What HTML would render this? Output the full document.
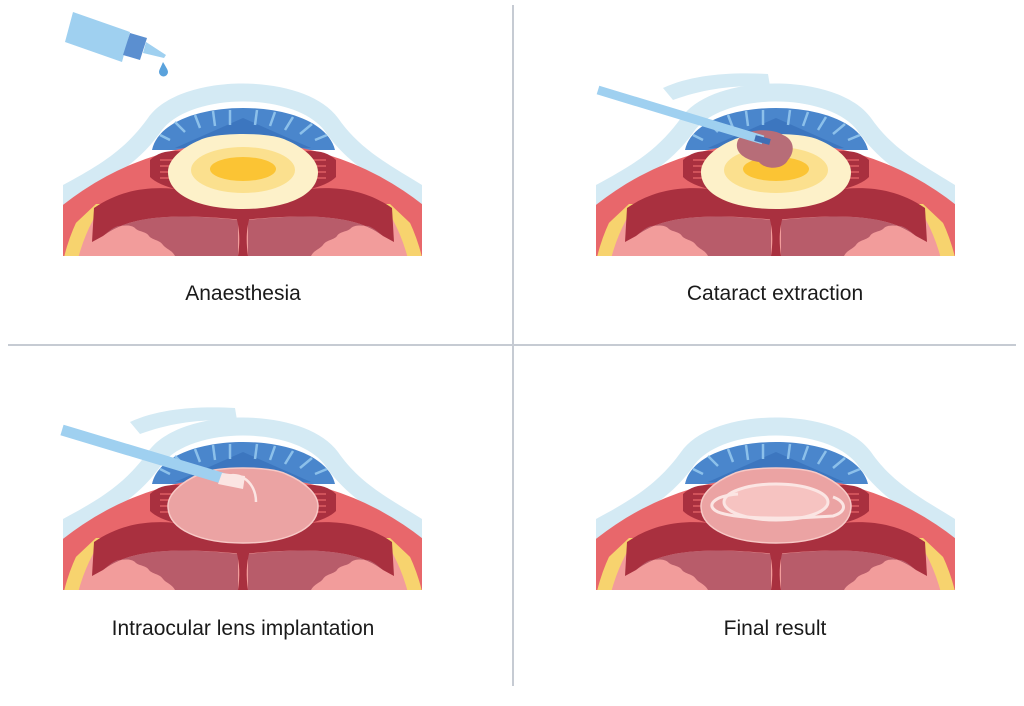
<!DOCTYPE html>
<html><head><meta charset="utf-8"><style>
html,body{margin:0;padding:0;background:#fff;width:1024px;height:706px;overflow:hidden;}
body{position:relative;font-family:"Liberation Sans",sans-serif;}
#w{position:absolute;left:0;top:0;width:1024px;height:706px;overflow:hidden;}
.l{position:absolute;font-size:21px;line-height:24px;color:#1a1a1a;text-align:center;width:400px;}
</style></head><body><div id="w">
<svg width="1024" height="706" viewBox="0 0 1024 706" style="position:absolute;left:0;top:0;display:block">
<defs>
<clipPath id="cb"><rect x="63" y="60" width="359" height="196"/></clipPath>
<clipPath id="cy"><polygon points="60,266 60,238 96,204 390,204 426,238 426,266"/></clipPath>
<g id="base">
 <g clip-path="url(#cb)">
  <path d="M63,256 L63,185 C100,165 125,150 148,118 C180,72 305,72 338,118 C360,150 390,165 422,185 L422,256 Z" fill="#d4eaf4"/>
  <path d="M79,256 L79,196 C112,178 140,162 162,130 C192,92 294,92 324,130 C346,162 374,178 406,196 L406,256 Z" fill="#fff"/>
  <path d="M152,150 C158,122 200,108 243,108 C286,108 328,122 335,150 Z" fill="#4a86cc"/>
  <path d="M175,148 L243,118 L311,148 Z" fill="#336cb5" opacity="0.6"/>
  <g stroke="#8cc0ea" stroke-width="2.5">
   <line x1="170" y1="140" x2="160" y2="135"/><line x1="185" y1="132" x2="175" y2="122"/><line x1="200" y1="128" x2="195" y2="115"/>
   <line x1="215" y1="126" x2="213" y2="111"/><line x1="230" y1="125" x2="230" y2="110"/><line x1="255" y1="125" x2="257" y2="110"/>
   <line x1="270" y1="126" x2="275" y2="112"/><line x1="285" y1="130" x2="293" y2="117"/><line x1="300" y1="134" x2="312" y2="124"/><line x1="315" y1="140" x2="327" y2="135"/>
  </g>
  <circle cx="243" cy="431" r="289" fill="#e8676b"/>
  <g clip-path="url(#cy)">
   <circle cx="243" cy="300" r="184" fill="#f7d36e"/>
   <circle cx="243" cy="300" r="170" fill="#f29c9b"/>
  </g>
  <path d="M94,208 C120,190 150,185 185,190 C215,194 232,202 243,202 C254,202 271,194 301,190 C336,185 366,190 392,208 L394,242 L383,236 C360,218 320,212 243,220 C166,212 126,218 103,236 L92,242 Z" fill="#a9303f"/>
  <path d="M103,236 C126,218 166,212 238,220 L238,256 L175,256 C172,250 166,249 163,245 C160,240 152,240 149,236 C146,231 138,232 135,228 C130,224 122,226 118,226 C112,228 108,232 103,236 Z" fill="#b85c6a"/>
  <path d="M383,236 C360,218 320,212 248,220 L248,256 L311,256 C314,250 320,249 323,245 C326,240 334,240 337,236 C340,231 348,232 351,228 C356,224 364,226 368,226 C374,228 378,232 383,236 Z" fill="#b85c6a"/>
  <path d="M236,216 C240,230 240,242 238,256 L248,256 C246,242 246,230 250,216 Z" fill="#a9303f"/>
  <path d="M150,160 C160,150 175,150 185,152 L180,190 C165,187 155,182 150,177 Z" fill="#a9303f"/>
  <path d="M336,160 C326,150 311,150 301,152 L306,190 C321,187 331,182 336,177 Z" fill="#a9303f"/>
  <g stroke="#e8676b" stroke-width="1.3">
   <line x1="160" y1="160" x2="182" y2="160"/><line x1="160" y1="166" x2="182" y2="166"/><line x1="160" y1="172" x2="182" y2="172"/><line x1="160" y1="178" x2="182" y2="178"/>
   <line x1="326" y1="160" x2="304" y2="160"/><line x1="326" y1="166" x2="304" y2="166"/><line x1="326" y1="172" x2="304" y2="172"/><line x1="326" y1="178" x2="304" y2="178"/>
  </g>
 </g>
</g>
<g id="lensY">
 <path d="M200,140 C215,132 271,132 286,140 C305,148 318,160 318,172 C318,196 285,209 243,209 C201,209 168,196 168,172 C168,160 181,148 200,140 Z" fill="#fdf1c9"/>
 <ellipse cx="243" cy="170" rx="52" ry="23" fill="#fbe08e"/>
 <ellipse cx="243" cy="169" rx="33" ry="12" fill="#fbc434"/>
</g>
<g id="lensP">
 <path d="M200,140 C215,132 271,132 286,140 C305,148 318,160 318,172 C318,196 285,209 243,209 C201,209 168,196 168,172 C168,160 181,148 200,140 Z" fill="#eba3a3" stroke="#f7c9c6" stroke-width="1.5"/>
</g>
</defs>

<line x1="513" y1="5" x2="513" y2="686" stroke="#c6cbd3" stroke-width="2"/>
<line x1="8" y1="345" x2="1016" y2="345" stroke="#c6cbd3" stroke-width="2"/>

<use href="#base"/>
<use href="#lensY"/>
<polygon points="73,12 130,32 122,62 65,42" fill="#9fd0f0"/>
<polygon points="130,33 147,38 140,60 123,55" fill="#5b8fd0"/>
<polygon points="146,42 166,55 164,58 143,53" fill="#9fd0f0"/>
<path d="M163,62 C166,67 168,70 168,72 A4.5,4.5 0 0 1 159,72 C159,70 161,67 163,62 Z" fill="#5aa2dc"/>

<g transform="translate(533,0)">
 <use href="#base"/>
 <use href="#lensY"/>
 <path d="M130,88 C160,74 200,72 235,74 L237,86 C200,85 170,89 140,100 Z" fill="#d4eaf4"/>
 <path d="M205,140 C212,128 240,128 250,135 C262,140 262,152 255,160 C250,170 232,170 226,162 C212,160 200,152 205,140 Z" fill="#b76d78"/>
 <line x1="65" y1="90" x2="230" y2="140" stroke="#9fd0f0" stroke-width="9"/>
 <line x1="222" y1="138" x2="237" y2="142" stroke="#3f6fb5" stroke-width="6"/>
</g>

<g transform="translate(0,334)">
 <use href="#base"/>
 <use href="#lensP"/>
 <path d="M130,88 C160,74 200,72 235,74 L237,86 C200,85 170,89 140,100 Z" fill="#d4eaf4"/>
 <path d="M222,145 C235,135 256,145 256,168" fill="none" stroke="#fbe5e3" stroke-width="2.5"/>
 <line x1="62" y1="96" x2="225" y2="145" stroke="#9fd0f0" stroke-width="11"/>
 <polygon points="222,139 245,142 243,155 218,150" fill="#fbe5e3"/>
</g>

<g transform="translate(533,334)">
 <use href="#base"/>
 <use href="#lensP"/>
 <ellipse cx="243" cy="168" rx="52" ry="18" fill="#f6c3c1" stroke="#fbe5e3" stroke-width="3"/>
 <path d="M205,160 C180,162 172,172 185,178 C200,184 240,186 300,182 C314,178 314,168 300,163" fill="none" stroke="#fbe5e3" stroke-width="3"/>
</g>
</svg>
<div class="l" style="left:43px;top:282px">Anaesthesia</div>
<div class="l" style="left:575px;top:282px">Cataract extraction</div>
<div class="l" style="left:43px;top:617px">Intraocular lens implantation</div>
<div class="l" style="left:575px;top:617px">Final result</div>
</div></body></html>
